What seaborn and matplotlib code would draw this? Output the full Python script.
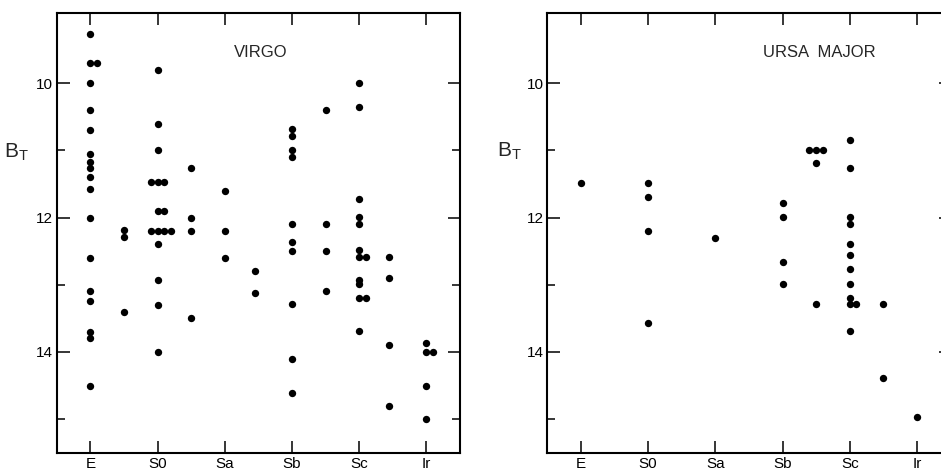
"""B_T versus morphological type for Virgo and Ursa Major."""

import matplotlib.pyplot as plt
import pandas as pd
import seaborn as sns
from matplotlib.ticker import FixedLocator


sns.set_theme(style="ticks")
plt.rcParams["font.family"] = ["Liberation Sans", "DejaVu Sans"]

types = ["E", "S0", "Sa", "Sb", "Sc", "Ir"]

# x is the type index; half steps are intermediate types, small
# offsets (0.1) are how coincident galaxies were drawn side by side.
virgo_x = [
    0, 0, 0.1, 0, 0, 0, 0, 0, 0, 0, 0, 0, 0, 0, 0, 0, 0, 0,      # E
    0.5, 0.5, 0.5,
    1, 1, 1, 0.9, 1, 1.1, 1, 1.1, 0.9, 1, 1.1, 1.2, 1, 1, 1, 1,  # S0
    1.5, 1.5, 1.5, 1.5,
    2, 2, 2,                                                    # Sa
    2.45, 2.45,
    3, 3, 3, 3, 3, 3, 3, 3, 3, 3,                               # Sb
    3.5, 3.5, 3.5, 3.5,
    4, 4, 4, 4, 4, 4, 4, 4.1, 4, 4, 4, 4.1, 4,                  # Sc
    4.45, 4.45, 4.45, 4.45,
    5, 5, 5.1, 5, 5,                                            # Ir
]
virgo_bt = [
    9.27, 9.70, 9.70, 10.0, 10.40, 10.70, 11.06, 11.18, 11.26, 11.40,
    11.57, 12.0, 12.60, 13.10, 13.24, 13.70, 13.80, 14.51,
    12.19, 12.29, 13.40,
    9.80, 10.60, 11.0, 11.47, 11.47, 11.47, 11.90, 11.90, 12.20, 12.20,
    12.20, 12.20, 12.39, 12.93, 13.30, 14.0,
    11.26, 12.0, 12.20, 13.50,
    11.60, 12.20, 12.60,
    12.79, 13.13,
    10.68, 10.78, 11.0, 11.10, 12.10, 12.36, 12.50, 13.29, 14.10, 14.61,
    10.40, 12.10, 12.50, 13.10,
    10.0, 10.36, 11.73, 11.99, 12.09, 12.49, 12.59, 12.59, 12.93, 12.99,
    13.19, 13.19, 13.69,
    12.59, 12.90, 13.90, 14.80,
    13.86, 14.0, 14.0, 14.50, 15.0,
]

ursa_x = [
    0,                                          # E
    1, 1, 1, 1,                                 # S0
    2,                                          # Sa
    3, 3, 3, 3,                                 # Sb
    3.4, 3.5, 3.6, 3.5, 3.5,
    4, 4, 4, 4, 4, 4, 4, 4, 4, 4, 4.1, 4,       # Sc
    4.5, 4.5,
    5,                                          # Ir
]
ursa_bt = [
    11.49,
    11.49, 11.70, 12.20, 13.57,
    12.30,
    11.79, 11.99, 12.66, 12.99,
    10.99, 10.99, 10.99, 11.19, 13.29,
    10.85, 11.26, 11.99, 12.09, 12.39, 12.56, 12.76, 12.99, 13.19, 13.29,
    13.29, 13.69,
    13.29, 14.39,
    14.97,
]

panels = [("VIRGO", virgo_x, virgo_bt, 0.507),
          ("URSA  MAJOR", ursa_x, ursa_bt, 0.675)]


def style_axes(ax):
    ax.set_xlim(-0.5, 5.5)
    ax.set_ylim(15.5, 8.95)
    ax.set_xticks(range(len(types)))
    ax.set_xticklabels(types)
    ax.set_yticks([10, 12, 14])
    ax.yaxis.set_minor_locator(FixedLocator([11, 13, 15]))
    ax.tick_params(axis="both", which="both", direction="in", color="black",
                   labelcolor="black", labelsize=11, width=1.1)
    ax.tick_params(axis="x", which="major", length=8.5, top=True, pad=3)
    ax.tick_params(axis="y", which="major", length=9, right=True, pad=2.5)
    ax.tick_params(axis="y", which="minor", length=5.5, left=True, right=True)
    for side in ax.spines.values():
        side.set_visible(True)
        side.set_color("black")
        side.set_linewidth(1.5)
    ax.set_xlabel("")
    ax.set_ylabel(r"$\mathregular{B_T}$", rotation=0, fontsize=15,
                  va="center", ha="center")


fig = plt.figure(figsize=(9.41, 4.72), dpi=100)
axes = [fig.add_axes([0.0603, 0.0409, 0.4286, 0.9322]),
        fig.add_axes([0.5816, 0.0409, 0.4286, 0.9322])]

for ax, (name, xs, bts, title_x) in zip(axes, panels):
    df = pd.DataFrame({"type_index": xs, "bt": bts})
    sns.scatterplot(data=df, x="type_index", y="bt", ax=ax, color="black",
                    s=28, linewidth=0, legend=False)
    style_axes(ax)
    ax.text(title_x, 0.91, name, transform=ax.transAxes, ha="center",
            va="center", fontsize=12)

axes[0].yaxis.set_label_coords(-0.1, 0.683)
axes[1].yaxis.set_label_coords(-0.093, 0.685)

fig.savefig("out.png", dpi=100)
plt.close(fig)
